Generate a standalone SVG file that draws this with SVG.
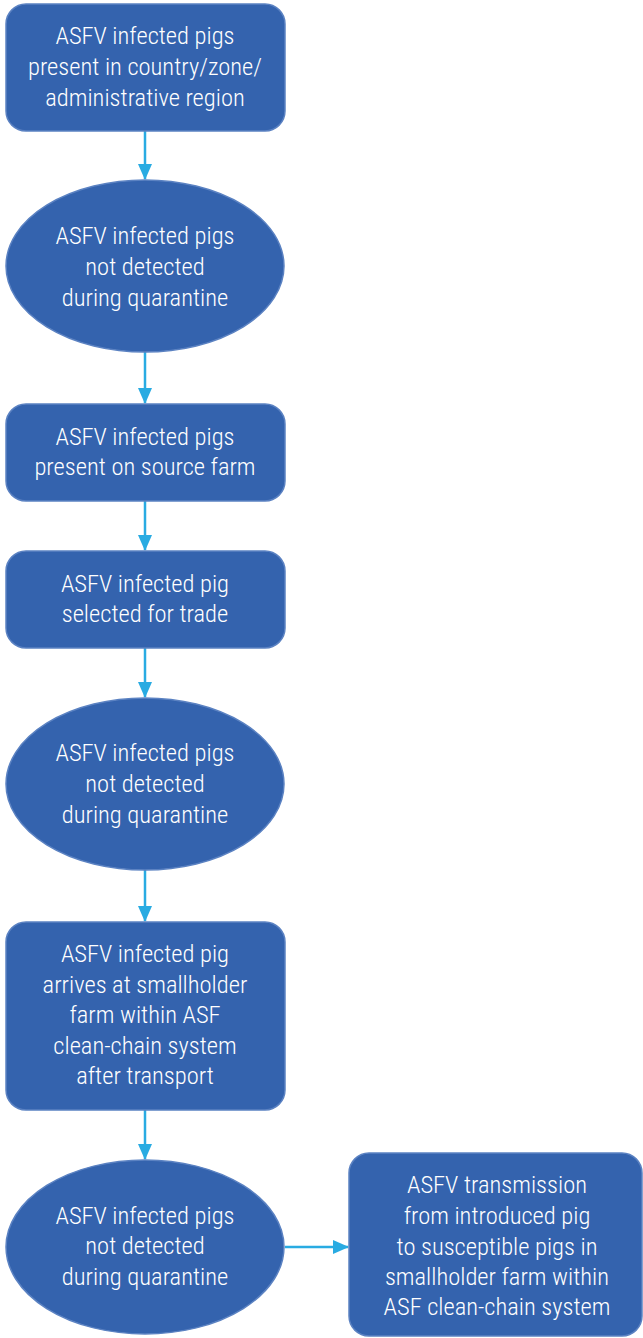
<svg xmlns="http://www.w3.org/2000/svg" width="643" height="1338" viewBox="0 0 643 1338">
<style>
.n{fill:#3463ae;stroke:#5b82c2;stroke-width:1.5}
.t{font-family:Roboto,"Liberation Sans",sans-serif;font-size:24.5px;font-weight:300;fill:#ffffff;text-anchor:middle;font-stretch:condensed}
.c{stroke:#29abe2;stroke-width:2.5;fill:none}
</style>
<defs>
<marker id="ah" markerWidth="16" markerHeight="14" refX="15" refY="7" orient="auto" markerUnits="userSpaceOnUse">
<path d="M0,0 L16,7 L0,14 Z" fill="#29abe2"/>
</marker>
</defs>
<g id="connectors">
<line class="c" x1="145" y1="131" x2="145" y2="179" marker-end="url(#ah)"/>
<line class="c" x1="145" y1="352" x2="145" y2="403" marker-end="url(#ah)"/>
<line class="c" x1="145" y1="501" x2="145" y2="550" marker-end="url(#ah)"/>
<line class="c" x1="145" y1="648" x2="145" y2="697" marker-end="url(#ah)"/>
<line class="c" x1="145" y1="870" x2="145" y2="921" marker-end="url(#ah)"/>
<line class="c" x1="145" y1="1110" x2="145" y2="1159" marker-end="url(#ah)"/>
<line class="c" x1="285" y1="1247" x2="348" y2="1247" marker-end="url(#ah)"/>
</g>
<g id="n1">
<rect class="n" x="6" y="4" width="279" height="127" rx="20"/>
<text class="t" x="145" y="44">ASFV infected pigs</text>
<text class="t" x="145" y="75">present in country/zone/</text>
<text class="t" x="145" y="106">administrative region</text>
</g>
<g id="n2">
<ellipse class="n" cx="145" cy="266" rx="139" ry="86"/>
<text class="t" x="145" y="244">ASFV infected pigs</text>
<text class="t" x="145" y="275">not detected</text>
<text class="t" x="145" y="306">during quarantine</text>
</g>
<g id="n3">
<rect class="n" x="6" y="404" width="279" height="97" rx="20"/>
<text class="t" x="145" y="445">ASFV infected pigs</text>
<text class="t" x="145" y="475">present on source farm</text>
</g>
<g id="n4">
<rect class="n" x="6" y="551" width="279" height="97" rx="20"/>
<text class="t" x="145" y="592">ASFV infected pig</text>
<text class="t" x="145" y="622">selected for trade</text>
</g>
<g id="n5">
<ellipse class="n" cx="145" cy="784" rx="139" ry="86"/>
<text class="t" x="145" y="761">ASFV infected pigs</text>
<text class="t" x="145" y="792">not detected</text>
<text class="t" x="145" y="823">during quarantine</text>
</g>
<g id="n6">
<rect class="n" x="6" y="922" width="279" height="188" rx="20"/>
<text class="t" x="145" y="962">ASFV infected pig</text>
<text class="t" x="145" y="993">arrives at smallholder</text>
<text class="t" x="145" y="1023">farm within ASF</text>
<text class="t" x="145" y="1054">clean-chain system</text>
<text class="t" x="145" y="1084">after transport</text>
</g>
<g id="n7">
<ellipse class="n" cx="145" cy="1247" rx="139" ry="87"/>
<text class="t" x="145" y="1224">ASFV infected pigs</text>
<text class="t" x="145" y="1254">not detected</text>
<text class="t" x="145" y="1285">during quarantine</text>
</g>
<g id="n8">
<rect class="n" x="349" y="1153" width="293" height="183" rx="20"/>
<text class="t" x="497" y="1193">ASFV transmission</text>
<text class="t" x="497" y="1224">from introduced pig</text>
<text class="t" x="497" y="1255">to susceptible pigs in</text>
<text class="t" x="497" y="1285">smallholder farm within</text>
<text class="t" x="497" y="1315">ASF clean-chain system</text>
</g>
</svg>
